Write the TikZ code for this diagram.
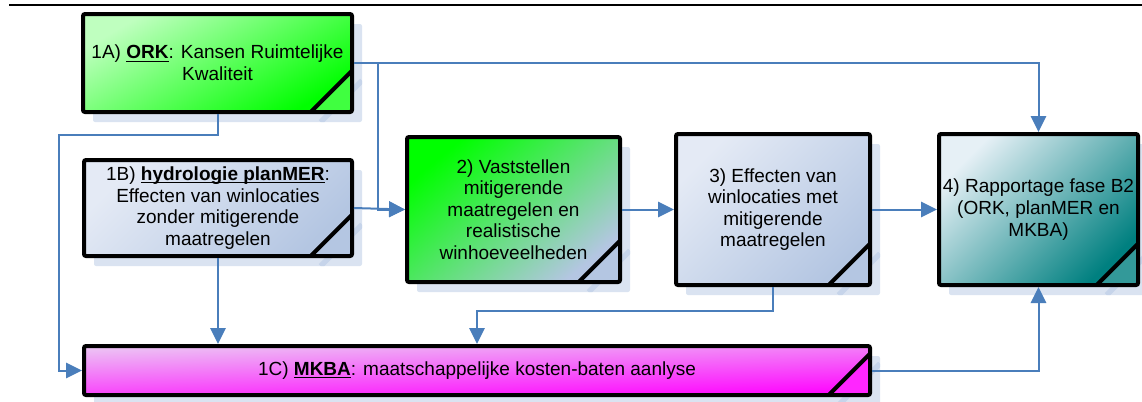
\documentclass[tikz,border=0pt]{standalone}
\usepackage{fontspec}
\setmainfont{Liberation Sans}
\usetikzlibrary{arrows.meta,shadows}
\definecolor{flowblue}{RGB}{74,126,187}
\definecolor{shadowblue}{RGB}{218,227,241}
\definecolor{streakblue}{RGB}{198,212,234}
\definecolor{paleblue}{RGB}{228,234,245}
\definecolor{greyblue}{RGB}{180,198,226}
\definecolor{foldblue}{RGB}{110,130,170}
\definecolor{brightgreen}{RGB}{0,255,0}
\definecolor{midgreen}{RGB}{150,216,188}
\definecolor{tealdark}{RGB}{0,128,128}
\definecolor{paleteal}{RGB}{230,240,246}
\definecolor{brightpink}{RGB}{255,0,255}
\definecolor{palepink}{RGB}{236,196,244}
\newcommand{\ulterm}[1]{\underline{\smash{\textbf{#1}}}}

\begin{document}
\begin{tikzpicture}[x=0.75pt, y=-0.75pt,
    stepbox/.style={rectangle, draw=black, line width=3pt, rounded corners=1.5pt, align=center, inner sep=2pt,
        font=\fontsize{14.25}{16.2}\selectfont,
        general shadow={fill=shadowblue, shadow xshift=7.5pt, shadow yshift=-7.5pt,
            path picture={\draw[streakblue, line width=4pt]
                ([xshift=-31pt]path picture bounding box.south east) -- ([yshift=31pt]path picture bounding box.south east);}}},
    curl/.style 2 args={path picture={
        \shade[top color=#1, bottom color=#2, shading angle=45]
            ([xshift=-31pt]path picture bounding box.south east) -- (path picture bounding box.south east)
            -- ([yshift=31pt]path picture bounding box.south east) -- cycle;
        \draw[black, line width=3pt]
            ([xshift=-31pt]path picture bounding box.south east) -- ([yshift=31pt]path picture bounding box.south east);}},
    bluebox/.style={stepbox, top color=paleblue, bottom color=greyblue, shading angle=45, curl={foldblue}{greyblue}},
    flow/.style={-{Triangle[length=12pt,width=11.5pt]}, flowblue, line width=1.5pt}
]
\useasboundingbox (0,0) rectangle (1142,401);
\draw[line width=1.7pt] (9,5) -- (1142,5);

% first column: ORK and planMER
\node[stepbox, minimum width=201.75pt, minimum height=73.5pt,
    top color=brightgreen!25!white, middle color=brightgreen, bottom color=brightgreen, shading angle=30,
    curl={brightgreen!50!black}{brightgreen!75!white}] (ork) at (217.5,63)
    {1A) \ulterm{ORK}: Kansen Ruimtelijke\\Kwaliteit};
\node[bluebox, minimum width=201pt, minimum height=72pt] (hydro) at (218,208)
    {1B) \ulterm{hydrologie planMER}:\\Effecten van winlocaties\\zonder mitigerende\\maatregelen};

% middle row: steps 2, 3 and 4
\node[stepbox, minimum width=159.75pt, minimum height=108.75pt,
    top color=brightgreen, middle color=midgreen, bottom color=greyblue, shading angle=40,
    curl={foldblue}{greyblue}] (vast) at (513.5,209.5)
    {2) Vaststellen\\mitigerende\\maatregelen en\\realistische\\winhoeveelheden};
\node[bluebox, minimum width=145.5pt, minimum height=113.25pt] (eff) at (773,209.5)
    {3) Effecten van\\winlocaties met\\mitigerende\\maatregelen};
\node[stepbox, minimum width=149.25pt, minimum height=113.25pt,
    top color=paleteal, middle color=tealdark!55!white, bottom color=tealdark, shading angle=45,
    curl={tealdark!35!black}{tealdark!80!white}] (rap) at (1038.5,209.5)
    {4) Rapportage fase B2\\(ORK, planMER en\\MKBA)};

% bottom bar: MKBA
\node[stepbox, minimum width=589.5pt, minimum height=36.75pt,
    top color=palepink, middle color=brightpink!80!white, bottom color=brightpink, shading angle=2,
    curl={brightpink!70!black}{brightpink!85!white}] (mkba) at (477,370.5)
    {1C) \ulterm{MKBA}: maatschappelijke kosten-baten aanlyse};

\coordinate (bendl) at (59,135);

% connectors
\draw[flow] (ork.east) -| (rap.north);
\draw[flow] (ork.east) -- ++(24,0) |- (vast.west);
\draw[flow] (ork.south) |- (bendl) |- (mkba.west);
\draw[flow] (hydro.east) -- (vast.west);
\draw[flow] (hydro.south) -- (hydro.south |- mkba.north);
\draw[flow] (vast.east) -- (eff.west);
\draw[flow] (eff.east) -- (rap.west);
\draw[flow] (eff.south) -- ++(0,24) -| (mkba.north);
\draw[flow] (mkba.east) -| (rap.south);

\end{tikzpicture}
\end{document}
